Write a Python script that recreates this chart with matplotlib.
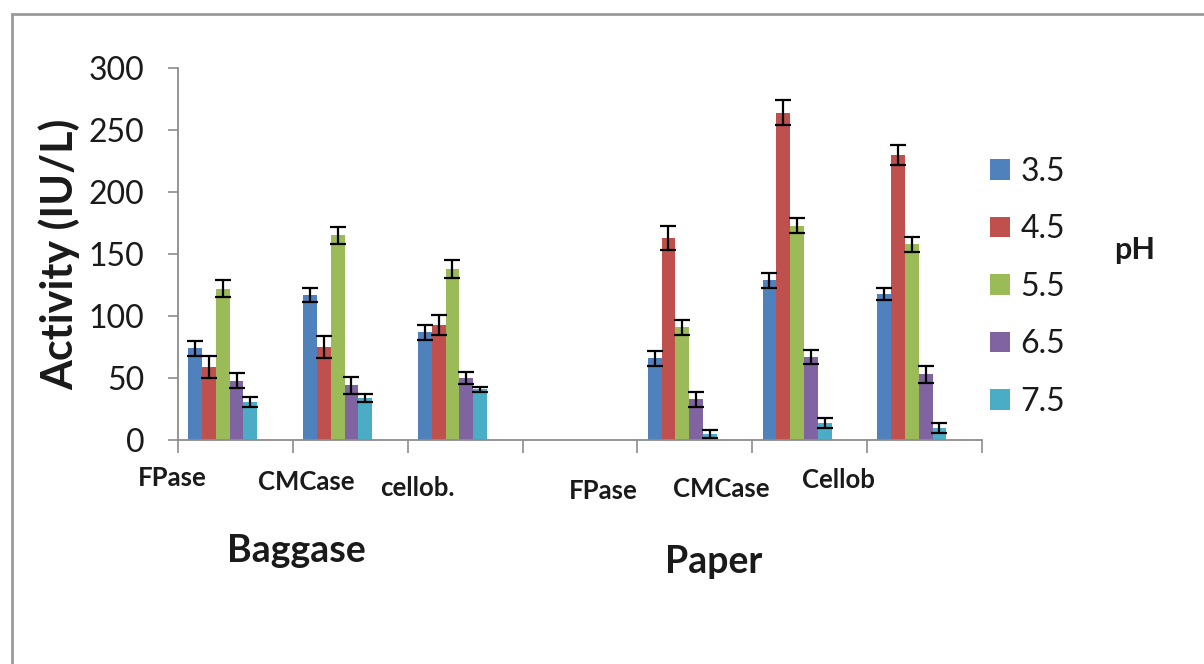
import numpy as np
import matplotlib
matplotlib.use("Agg")
import matplotlib.pyplot as plt
from matplotlib.patches import Patch, Rectangle

plt.rcParams['font.family'] = ['Lato', 'DejaVu Sans']

# enzyme activity (IU/L) per substrate slot; slot 3 is the spacer between substrates
slots = ['FPase', 'CMCase', 'cellob.', '', 'FPase', 'CMCase', 'Cellob']
ph_levels = ['3.5', '4.5', '5.5', '6.5', '7.5']
act_35 = [74, 117, 87, np.nan, 66, 129, 118]
act_45 = [59, 75, 93, np.nan, 163, 264, 230]
act_55 = [122, 165, 138, np.nan, 91, 173, 158]
act_65 = [48, 44, 50, np.nan, 33, 67, 53]
act_75 = [31, 34, 41, np.nan, 5, 14, 10]
err_35 = [6, 6, 6, 0, 6, 6, 5]
err_45 = [9, 9, 8, 0, 10, 10, 8]
err_55 = [7, 7, 7, 0, 6, 6, 6]
err_65 = [6, 7, 5, 0, 6, 6, 7]
err_75 = [4, 3, 2, 0, 3, 4, 4]
substrates = ['Baggase', 'Paper']

colors = ['#4F81BD', '#C0504D', '#9BBB59', '#8064A2', '#4BACC6']
series = [act_35, act_45, act_55, act_65, act_75]
errors = [err_35, err_45, err_55, err_65, err_75]
ink = '#1a1a1a'

fig = plt.figure(figsize=(12.04, 6.64), dpi=100)
ax = fig.add_axes([0.1478, 0.3373, 0.6678, 0.5602])

x = np.arange(len(slots))
width = 0.12
start = -0.5 + 0.09 + width / 2
for k, (vals, errs) in enumerate(zip(series, errors)):
    pos = x + start + k * width
    ax.bar(pos, vals, width=width, color=colors[k], zorder=2)
    ax.errorbar(pos, vals, yerr=errs, fmt='none', ecolor='black',
                elinewidth=1.6, capsize=5.5, capthick=1.6, zorder=3)

ax.set_xlim(-0.5, len(slots) - 0.5)
ax.set_ylim(0, 300)
ax.set_yticks(np.arange(0, 301, 50))
ax.set_xticks(np.arange(-0.5, len(slots)))
ax.set_xticklabels([])
ax.tick_params(axis='y', labelsize=23, length=7, width=1.2, color='#8c8c8c',
               pad=17, labelcolor=ink)
ax.tick_params(axis='x', length=9, width=1.2, color='#8c8c8c')
for side in ['top', 'right']:
    ax.spines[side].set_visible(False)
for side in ['left', 'bottom']:
    ax.spines[side].set_color('#8c8c8c')
    ax.spines[side].set_linewidth(1.3)

ax.set_ylabel('Activity (IU/L)', fontsize=31, fontweight='bold',
              color=ink, labelpad=6)

# substrate labels placed as free text boxes under the axis
label_px = [(172, 478), (306, 482), (417, 488), (603, 491), (721, 489), (838, 480)]
for name, (px, py) in zip([s for s in slots if s], label_px):
    fig.text(px / 1204, 1 - py / 664, name, fontsize=18.5, fontweight='bold',
             ha='center', va='center', color=ink)
fig.text(296 / 1204, 1 - 551 / 664, substrates[0], fontsize=27,
         fontweight='bold', ha='center', va='center', color=ink)
fig.text(714 / 1204, 1 - 562 / 664, substrates[1], fontsize=27,
         fontweight='bold', ha='center', va='center', color=ink)

handles = [Patch(facecolor=c, edgecolor='none') for c in colors]
fig.legend(handles, ph_levels, loc='upper left',
           bbox_to_anchor=(961 / 1204, 1 - 128 / 664), frameon=False,
           fontsize=23, handlelength=0.62, handleheight=0.62,
           handletextpad=0.35, labelspacing=0.86, labelcolor=ink)
fig.text(1135 / 1204, 1 - 250 / 664, 'pH', fontsize=22, fontweight='bold',
         ha='center', va='center', color=ink)

# outer frame
fig.patches.append(Rectangle((12 / 1204, -0.05), 1.1, 1 - 14 / 664 + 0.05,
                             transform=fig.transFigure, fill=False,
                             edgecolor='#9a9a9a', linewidth=2))

fig.savefig('out.png', dpi=100)
